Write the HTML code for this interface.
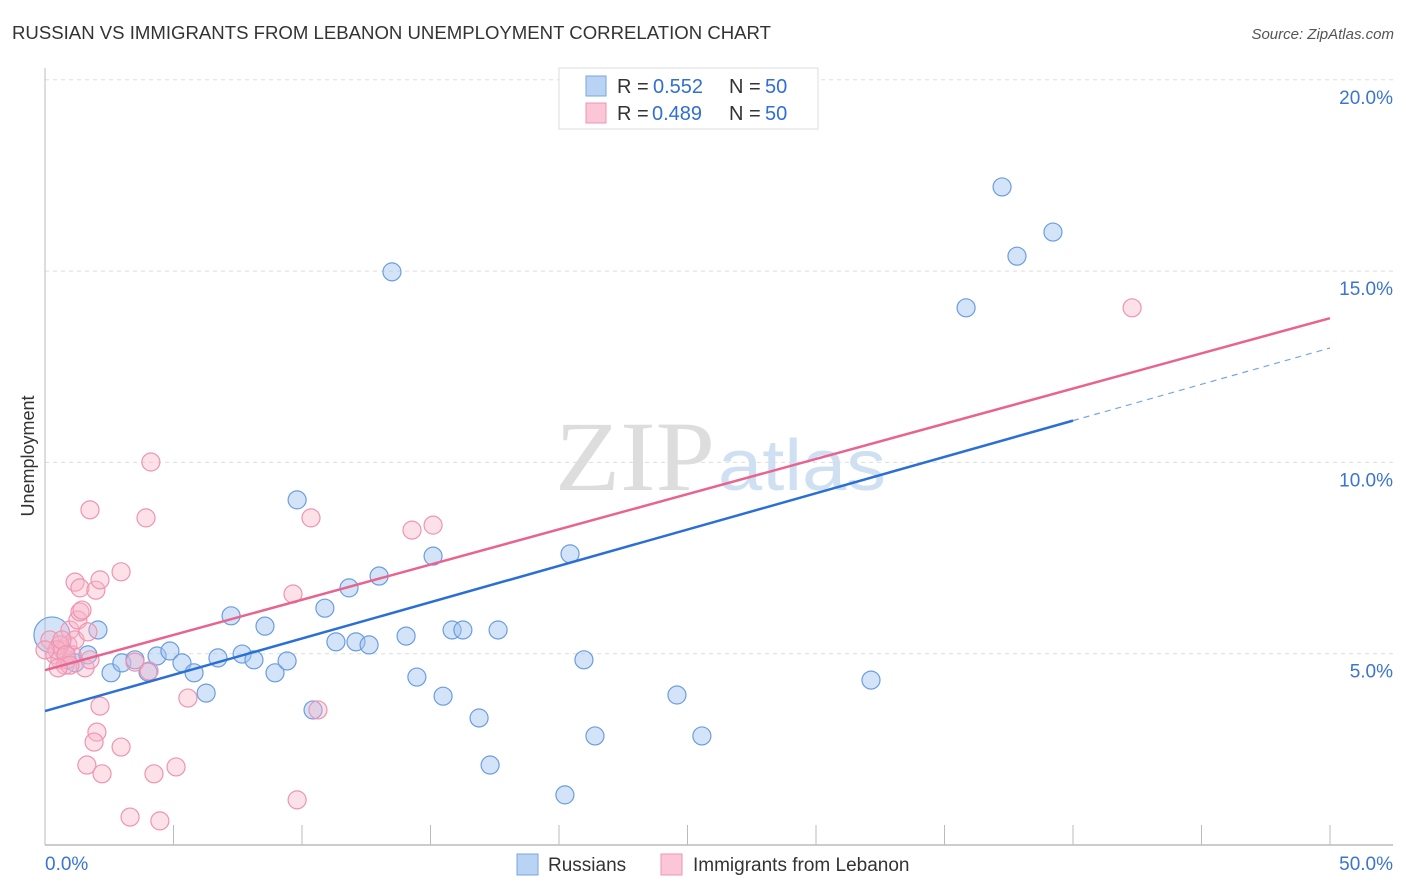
<!DOCTYPE html>
<html><head><meta charset="utf-8">
<style>
body{margin:0;background:#fff;font-family:"Liberation Sans",sans-serif;}
svg{display:block}
</style></head><body>
<svg id="c" width="1406" height="892">
<text x="12" y="39" font-size="18" fill="#333" textLength="759" lengthAdjust="spacingAndGlyphs">RUSSIAN VS IMMIGRANTS FROM LEBANON UNEMPLOYMENT CORRELATION CHART</text>
<text x="1394" y="39" font-size="15" fill="#555" font-style="italic" text-anchor="end">Source: ZipAtlas.com</text>
<text x="555" y="490" font-size="100" fill="#ddd" textLength="160" lengthAdjust="spacingAndGlyphs" font-family="Liberation Serif">ZIP</text>
<text x="718" y="490" font-size="72" fill="#cfe0f3" textLength="168" lengthAdjust="spacingAndGlyphs">atlas</text>
<text transform="translate(34,456) rotate(-90)" font-size="18" fill="#333" text-anchor="middle">Unemployment</text>
<g id="grid"></g><g id="marks"></g>
<g>
<rect x="559" y="68" width="259" height="61" fill="#fff" stroke="#ddd"/>
<rect x="586" y="76" width="20" height="20" fill="#b9d3f5" stroke="#7aa6e0"/>
<rect x="586" y="103" width="20" height="20" fill="#fbc6d6" stroke="#ee94b2"/>
<text y="93" font-size="20" fill="#333"><tspan x="617">R = </tspan><tspan x="653" fill="#2f6fd6">0.552</tspan><tspan x="729">N = </tspan><tspan x="765" fill="#2f6fd6">50</tspan></text>
<text y="120" font-size="20" fill="#333"><tspan x="617">R = </tspan><tspan x="652" fill="#2f6fd6">0.489</tspan><tspan x="729">N = </tspan><tspan x="765" fill="#2f6fd6">50</tspan></text>
</g>
<g>
<rect x="517" y="854" width="21" height="21" fill="#b9d3f5" stroke="#7aa6e0"/>
<text x="548" y="871" font-size="19" fill="#333">Russians</text>
<rect x="661" y="854" width="21" height="21" fill="#fbc6d6" stroke="#ee94b2"/>
<text x="693" y="871" font-size="19" fill="#333">Immigrants from Lebanon</text>
</g>
</svg>
<script>
const xTicks=[0,5,10,15,20,25,30,35,40,45,50];
const yTicks=[5,10,15,20];
const yTickLabels=["5.0%","10.0%","15.0%","20.0%"];
const xEndLabels=["0.0%","50.0%"];
const rusX=[0.27,0.86,1.17,1.67,2.06,2.57,2.99,3.50,4.01,4.36,4.86,5.33,5.80,6.27,6.73,7.24,7.67,8.13,8.56,8.95,9.42,9.81,10.43,10.89,11.32,11.83,12.10,12.61,13.00,13.50,14.05,14.47,15.10,15.49,15.84,16.26,16.89,17.32,17.63,20.23,20.43,20.97,21.40,24.59,25.56,32.14,35.84,37.24,37.82,39.22];
const rusY=[5.49,4.84,4.76,4.97,5.62,4.50,4.76,4.84,4.52,4.94,5.07,4.76,4.50,3.97,4.89,5.99,4.99,4.84,5.72,4.50,4.81,9.02,3.53,6.19,5.31,6.72,5.31,5.23,7.03,14.98,5.46,4.39,7.55,3.89,5.62,5.62,3.32,2.09,5.62,1.31,7.61,4.84,2.85,3.92,2.85,4.31,14.04,17.20,15.39,16.02];
const lebX=[0.19,0.39,0.58,0.70,0.89,0.97,1.05,1.17,1.28,1.36,1.44,1.17,1.36,1.56,1.67,1.75,1.98,2.14,2.14,2.02,1.91,1.63,2.22,2.96,2.96,3.31,3.50,3.93,4.05,4.12,4.24,4.47,5.10,5.56,9.65,9.81,10.35,10.62,14.28,15.10,42.30,0.58,0.78,0.47,0.66,1.75,0.82,0.97,0.51,0.0];
const lebY=[5.36,4.97,4.84,5.10,5.23,5.62,4.97,5.36,5.88,6.09,6.14,6.87,6.72,4.63,5.57,8.76,6.66,6.93,3.63,2.95,2.69,2.09,1.86,7.14,2.56,0.73,4.78,8.55,4.55,10.01,1.86,0.63,2.04,3.84,6.56,1.18,8.55,3.53,8.23,8.36,14.04,5.23,4.70,5.10,5.36,4.84,4.97,4.70,4.63,5.10];
const rusTrend=[3.50,12.99]; // y at x=0 and x=50
const rusSolidEnd=40;
const lebTrend=[4.57,13.77];
const X=v=>45+v/50*1285, Y=v=>845-v/5*191.3;
const NS="http://www.w3.org/2000/svg";
const g=document.getElementById('grid'), m=document.getElementById('marks');
function el(t,a,p){const e=document.createElementNS(NS,t);for(const k in a)e.setAttribute(k,a[k]);p.appendChild(e);return e;}
yTicks.forEach((v,i)=>{
 const l=el('line',{x1:45,x2:1393,y1:Y(v),y2:Y(v),stroke:'#ddd','stroke-dasharray':'4,4'},g);
 
 
 const t=el('text',{x:1393,y:Y(v)+24,'font-size':19,fill:'#3b74d1','text-anchor':'end'},g);t.textContent=yTickLabels[i];
 
 
});
const ax=el('line',{x1:45,x2:45,y1:68,y2:845,stroke:'#bbb'},g);


const bx=el('line',{x1:45,x2:1393,y1:845,y2:845,stroke:'#bbb','stroke-width':1.5},g);


xTicks.forEach(v=>{const l=el('line',{x1:X(v),x2:X(v),y1:825,y2:845,stroke:'#bbb'},g);
 
 });
[[0,'start',45],[50,'end',1393]].forEach((o,i)=>{const t=el('text',{x:o[2],y:870,'font-size':19,fill:'#3b74d1','text-anchor':o[1]},g);t.textContent=xEndLabels[i];
 
 });
rusX.forEach((x,i)=>{const c=el('circle',{cx:X(x),cy:Y(rusY[i]),r:i==0?18:9,fill:'rgba(160,196,240,0.45)',stroke:'#6b9de0','stroke-width':1.2},m);
 
 });
lebX.forEach((x,i)=>{const c=el('circle',{cx:X(x),cy:Y(lebY[i]),r:9,fill:'rgba(248,180,200,0.4)',stroke:'#ee94b2','stroke-width':1.2},m);
 
 });
const ry=x=>rusTrend[0]+(rusTrend[1]-rusTrend[0])*x/50;
let l=el('line',{x1:X(0),y1:Y(ry(0)),x2:X(rusSolidEnd),y2:Y(ry(rusSolidEnd)),stroke:'#2a6fd6','stroke-width':2.5},m);


l=el('line',{x1:X(rusSolidEnd),y1:Y(ry(rusSolidEnd)),x2:X(50),y2:Y(ry(50)),stroke:'#7aa6e0','stroke-width':1.2,'stroke-dasharray':'6,5'},m);


l=el('line',{x1:X(0),y1:Y(lebTrend[0]),x2:X(50),y2:Y(lebTrend[1]),stroke:'#e8648f','stroke-width':2.5},m);


</script>
</body></html>
